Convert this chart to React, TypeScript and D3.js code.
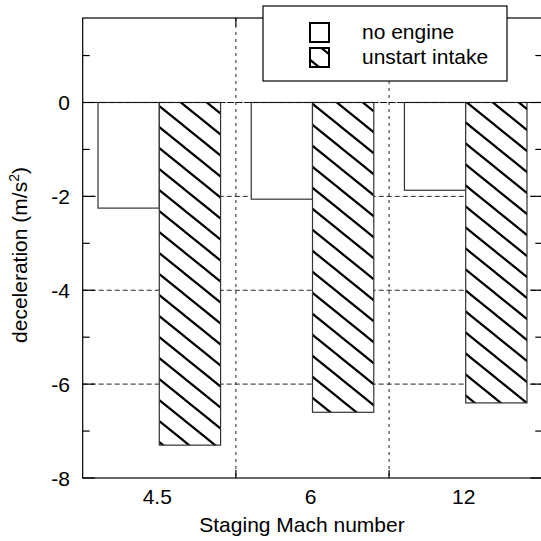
import React from "react";
import * as d3 from "d3";

const categories = ["4.5", "6", "12"];
const seriesNames = ["no engine", "unstart intake"];
const noEngine = [-2.25, -2.06, -1.87];
const unstartIntake = [-7.3, -6.6, -6.4];
const majorTicks = [0, -2, -4, -6, -8];
const minorTicks = [1, -1, -3, -5, -7];
const gridValues = [-2, -4, -6];

const W = 541;
const H = 541;
const left = 82.7;
const right = 542.3;
const top = 18;
const bottom = 478;
const FS = 21;
const FONT = "Arial, 'Liberation Sans', Helvetica, sans-serif";

export default function App() {
  const x0 = d3.scaleBand<string>().domain(categories).range([left, right]).padding(0);
  const x1 = d3
    .scaleBand<string>()
    .domain(seriesNames)
    .range([0, x0.bandwidth()])
    .paddingInner(0)
    .paddingOuter(0.25);
  const y = d3.scaleLinear().domain([-8, 1.8]).range([bottom, top]);

  const seriesValues = [noEngine, unstartIntake];
  const separators = categories.slice(1).map((c) => x0(c) as number);

  return (
    <svg
      width={W}
      height={H}
      style={{ position: "fixed", left: 0, top: 0, background: "#fff" }}
      fontFamily={FONT}
    >
      <defs>
        <pattern id="hatch" patternUnits="userSpaceOnUse" width={26} height={21} x={2} y={0}>
          <rect width={26} height={21} fill="#fff" />
          <path
            d="M-26,-21 L52,42 M-26,0 L26,42 M0,-21 L52,21"
            stroke="#000"
            strokeWidth={2.2}
            fill="none"
          />
        </pattern>
      </defs>

      {/* horizontal gridlines */}
      {gridValues.map((v) => (
        <line
          key={"g" + v}
          x1={left}
          x2={right}
          y1={y(v)}
          y2={y(v)}
          stroke="#222"
          strokeWidth={1}
          strokeDasharray="5,3"
        />
      ))}
      {/* vertical group separators */}
      {separators.map((sx, i) => (
        <line
          key={"s" + i}
          x1={sx}
          x2={sx}
          y1={top}
          y2={bottom}
          stroke="#222"
          strokeWidth={1}
          strokeDasharray="3,4"
        />
      ))}

      {/* bars */}
      {categories.map((c, ci) =>
        seriesNames.map((s, si) => {
          const v = seriesValues[si][ci];
          const bx = (x0(c) as number) + (x1(s) as number);
          const y0 = y(0);
          const y1v = y(v);
          return (
            <rect
              key={c + s}
              x={bx}
              y={Math.min(y0, y1v)}
              width={x1.bandwidth()}
              height={Math.abs(y1v - y0)}
              fill={si === 0 ? "#fff" : "url(#hatch)"}
              stroke="#333"
              strokeWidth={1.2}
            />
          );
        })
      )}

      {/* zero line */}
      <line x1={left} x2={right} y1={y(0)} y2={y(0)} stroke="#111" strokeWidth={1.2} strokeDasharray="7,1.5" />

      {/* frame */}
      <rect x={left} y={top} width={right - left} height={bottom - top} fill="none" stroke="#000" strokeWidth={1.2} />

      {/* y ticks left & right */}
      {majorTicks.map((v) => (
        <g key={"mt" + v}>
          <line x1={left} x2={left + 12} y1={y(v)} y2={y(v)} stroke="#000" strokeWidth={1.2} />
          <line x1={right - 12} x2={right} y1={y(v)} y2={y(v)} stroke="#000" strokeWidth={1.2} />
          <text x={70} y={y(v)} dy="0.36em" textAnchor="end" fontSize={FS} fill="#000">
            {String(v)}
          </text>
        </g>
      ))}
      {minorTicks.map((v) => (
        <g key={"nt" + v}>
          <line x1={left} x2={left + 7} y1={y(v)} y2={y(v)} stroke="#000" strokeWidth={1.2} />
          <line x1={right - 7} x2={right} y1={y(v)} y2={y(v)} stroke="#000" strokeWidth={1.2} />
        </g>
      ))}
      {/* x separator ticks */}
      {separators.map((sx, i) => (
        <g key={"st" + i}>
          <line x1={sx} x2={sx} y1={bottom} y2={bottom - 8} stroke="#000" strokeWidth={1.2} />
          <line x1={sx} x2={sx} y1={top} y2={top + 8} stroke="#000" strokeWidth={1.2} />
        </g>
      ))}

      {/* x tick labels */}
      {categories.map((c) => (
        <text
          key={"xl" + c}
          x={(x0(c) as number) + x0.bandwidth() / 2 - 2}
          y={504}
          textAnchor="middle"
          fontSize={FS}
          fill="#000"
        >
          {c}
        </text>
      ))}

      {/* axis titles */}
      <text x={302} y={532} textAnchor="middle" fontSize={FS} fill="#000">
        Staging Mach number
      </text>
      <text transform="translate(27,255) rotate(-90)" textAnchor="middle" fontSize={FS} fill="#000">
        deceleration (m/s
        <tspan dy={-8} fontSize={14}>
          2
        </tspan>
        <tspan dy={8}>)</tspan>
      </text>

      {/* legend */}
      <rect x={263} y={6} width={244} height={75} fill="#fff" stroke="#000" strokeWidth={1.2} />
      {seriesNames.map((s, i) => (
        <g key={"lg" + s}>
          <rect
            x={310}
            y={23 + i * 25}
            width={19}
            height={19}
            fill={i === 0 ? "#fff" : "url(#hatch)"}
            stroke="#000"
            strokeWidth={2}
          />
          <text x={362} y={39 + i * 25} fontSize={FS} fill="#000">
            {s}
          </text>
        </g>
      ))}
    </svg>
  );
}
